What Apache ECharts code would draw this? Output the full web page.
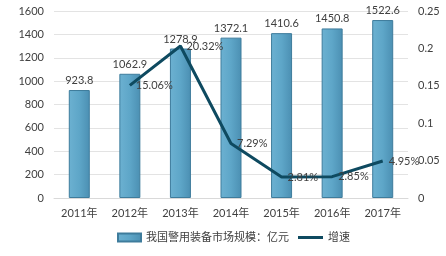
<!DOCTYPE html>
<html><head><meta charset="utf-8">
<script src="https://cdn.jsdelivr.net/npm/echarts@6/dist/echarts.min.js"></script>
<style>html,body{margin:0;padding:0;background:#fff}#c{width:446px;height:256px}</style>
</head><body><div id="c"></div>
<script>
const categories = ['2011年','2012年','2013年','2014年','2015年','2016年','2017年'];
const marketSize = [923.8, 1062.9, 1278.9, 1372.1, 1410.6, 1450.8, 1522.6];
const growth = [null, 0.1506, 0.2032, 0.0729, 0.0281, 0.0285, 0.0495];
const leftTicks = {min: 0, max: 1600, interval: 200};
const rightTicks = {min: 0, max: 0.25, interval: 0.05};
const barName = '我国警用装备市场规模：亿元';
const lineName = '增速';

const font = 'Lato, "Noto Sans CJK SC", sans-serif';
const lineColor = '#0e4a60';
const chart = echarts.init(document.getElementById('c'), null, {renderer: 'canvas'});
chart.setOption({
  animation: false,
  textStyle: {fontFamily: font},
  grid: {left: 54, right: 38, top: 11, bottom: 58},
  legend: [
    {left: 112, top: 227, itemWidth: 23, itemHeight: 8, itemGap: 4,
     textStyle: {fontSize: 11, color: '#404040', fontFamily: font},
     data: [{name: barName, icon: 'rect'}]},
    {left: 293, top: 227, itemWidth: 25, itemHeight: 3, itemGap: 4,
     textStyle: {fontSize: 11, color: '#404040', fontFamily: font},
     data: [{name: lineName, icon: 'rect', itemStyle: {color: lineColor}}]}
  ],
  xAxis: {
    type: 'category', data: categories,
    axisLine: {lineStyle: {color: '#d9d9d9'}},
    axisTick: {show: false},
    axisLabel: {color: '#404040', fontSize: 11, margin: 10}
  },
  yAxis: [
    {type: 'value', min: leftTicks.min, max: leftTicks.max, interval: leftTicks.interval,
     axisLine: {show: false}, axisTick: {show: false},
     splitLine: {lineStyle: {color: '#e3e3e3'}},
     axisLabel: {color: '#404040', fontSize: 11, margin: 10, formatter: v => String(v)}},
    {type: 'value', min: rightTicks.min, max: rightTicks.max, interval: rightTicks.interval,
     axisLine: {show: false}, axisTick: {show: false}, splitLine: {show: false},
     axisLabel: {color: '#404040', fontSize: 11, margin: 10, formatter: v => String(+v.toFixed(2))}}
  ],
  series: [
    {name: barName, type: 'bar', data: marketSize, barWidth: 21,
     itemStyle: {
       color: new echarts.graphic.LinearGradient(0, 0, 1, 0, [
         {offset: 0, color: '#6cb1d1'}, {offset: 0.5, color: '#5ea6c8'}, {offset: 1, color: '#4b8fb2'}]),
       borderColor: '#3e7c9c', borderWidth: 1
     },
     label: {show: true, position: 'top', color: '#404040', fontSize: 11, distance: 4}
    },
    {name: lineName, type: 'line', yAxisIndex: 1, data: growth, showSymbol: true, symbol: 'circle', symbolSize: 0.01,
     lineStyle: {color: lineColor, width: 3}, itemStyle: {color: lineColor},
     label: {show: true, position: 'right', color: '#404040', fontSize: 11, distance: 6,
       formatter: p => (p.value * 100).toFixed(2) + '%'},
     z: 3
    }
  ]
});
</script></body></html>
